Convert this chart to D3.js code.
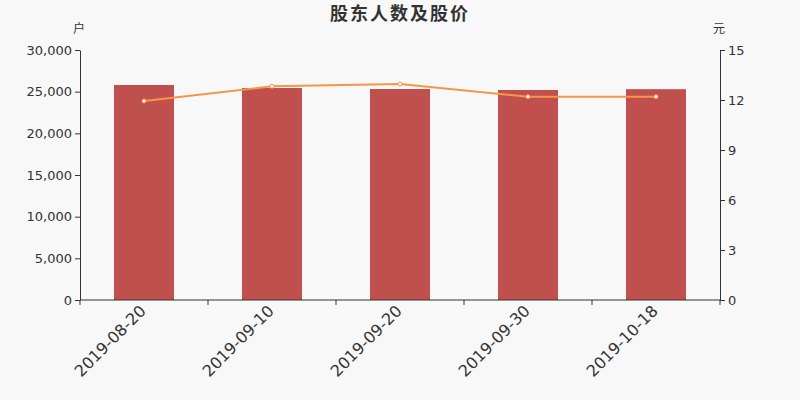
<!DOCTYPE html>
<html>
<head>
<meta charset="utf-8">
<script src="https://cdn.jsdelivr.net/npm/d3@7/dist/d3.min.js"></script>
<style>
  html, body { margin: 0; padding: 0; background: #f8f8f8; }
  svg { display: block; font-family: "DejaVu Sans", "Noto Sans CJK SC", sans-serif; }
</style>
</head>
<body>
<svg id="chart" width="800" height="400"></svg>
<script>
// ----- DATA -----
var dates = ['2019-08-20', '2019-09-10', '2019-09-20', '2019-09-30', '2019-10-18'];
var holders = [25800, 25440, 25320, 25200, 25300];
var prices = [11.94, 12.82, 12.96, 12.2, 12.2];
var holderTicks = [0, 5000, 10000, 15000, 20000, 25000, 30000];
var priceTicks = [0, 3, 6, 9, 12, 15];

// ----- SETTINGS -----
var LEFT = 80, RIGHT = 720, TOP = 50, BOTTOM = 300,
    BAR_WIDTH = 60,
    BAR_COLOR = '#c0504d',
    LINE_COLOR = '#f79646',
    TEXT_COLOR = '#333';

var svg = d3.select('#chart');

var x = d3.scaleBand().domain(dates).range([LEFT, RIGHT]);
var yLeft = d3.scaleLinear().domain([0, 30000]).range([BOTTOM, TOP]);
var yRight = d3.scaleLinear().domain([0, 15]).range([BOTTOM, TOP]);

// title
svg.append('text')
    .attr('x', 400).attr('y', 20)
    .attr('text-anchor', 'middle')
    .attr('font-size', 18).attr('font-weight', 'bold')
    .attr('fill', TEXT_COLOR)
    .attr('font-family', '"Noto Sans CJK SC", sans-serif')
    .attr('letter-spacing', 2)
    .text('股东人数及股价');

// unit labels
svg.append('text')
    .attr('x', 79).attr('y', 33)
    .attr('text-anchor', 'middle').attr('font-size', 12).attr('fill', TEXT_COLOR)
    .attr('font-family', '"Noto Sans CJK SC", sans-serif')
    .text('户');
svg.append('text')
    .attr('x', 719).attr('y', 33)
    .attr('text-anchor', 'middle').attr('font-size', 12).attr('fill', TEXT_COLOR)
    .attr('font-family', '"Noto Sans CJK SC", sans-serif')
    .text('元');

// bars
svg.append('g').selectAll('rect')
    .data(holders).enter()
    .append('rect')
        .attr('x', function (d, i) { return x(dates[i]) + (x.bandwidth() - BAR_WIDTH) / 2; })
        .attr('y', function (d) { return yLeft(d); })
        .attr('width', BAR_WIDTH)
        .attr('height', function (d) { return BOTTOM - yLeft(d); })
        .attr('fill', BAR_COLOR);

// axes
function styleAxis(g) {
    g.selectAll('path, line').attr('stroke', TEXT_COLOR);
    g.selectAll('text').attr('fill', TEXT_COLOR).attr('font-size', 13)
        .attr('font-family', '"DejaVu Sans", sans-serif');
}

svg.append('g')
    .attr('transform', 'translate(' + LEFT + ',0)')
    .call(d3.axisLeft(yLeft).tickValues(holderTicks).tickFormat(d3.format(',')).tickSize(5).tickSizeOuter(0).tickPadding(3))
    .call(styleAxis);

svg.append('g')
    .attr('transform', 'translate(' + RIGHT + ',0)')
    .call(d3.axisRight(yRight).tickValues(priceTicks).tickSize(5).tickSizeOuter(0).tickPadding(3))
    .call(styleAxis);

// x axis with ticks at band boundaries
var xAxis = svg.append('g').attr('transform', 'translate(0,' + BOTTOM + ')');
xAxis.append('line')
    .attr('x1', LEFT).attr('x2', RIGHT)
    .attr('stroke', TEXT_COLOR);
xAxis.selectAll('line.tick')
    .data(dates.concat([null])).enter()
    .append('line')
        .attr('class', 'tick')
        .attr('x1', function (d, i) { return LEFT + i * x.step(); })
        .attr('x2', function (d, i) { return LEFT + i * x.step(); })
        .attr('y1', 0).attr('y2', 5)
        .attr('stroke', TEXT_COLOR);
xAxis.selectAll('text')
    .data(dates).enter()
    .append('text')
        .attr('transform', function (d) {
            return 'translate(' + (x(d) + x.bandwidth() / 2 - 1) + ',8) rotate(-45)';
        })
        .attr('text-anchor', 'end')
        .attr('dy', '0.35em')
        .attr('font-size', 16)
        .attr('fill', TEXT_COLOR)
        .text(function (d) { return d; });

// price line
var line = d3.line()
    .x(function (d, i) { return x(dates[i]) + x.bandwidth() / 2; })
    .y(function (d) { return yRight(d); });

svg.append('path')
    .datum(prices)
    .attr('d', line)
    .attr('fill', 'none')
    .attr('stroke', LINE_COLOR)
    .attr('stroke-width', 2);

svg.append('g').selectAll('circle')
    .data(prices).enter()
    .append('circle')
        .attr('cx', function (d, i) { return x(dates[i]) + x.bandwidth() / 2; })
        .attr('cy', function (d) { return yRight(d); })
        .attr('r', 2)
        .attr('fill', '#fff')
        .attr('stroke', LINE_COLOR)
        .attr('stroke-width', 1);
</script>
</body>
</html>
